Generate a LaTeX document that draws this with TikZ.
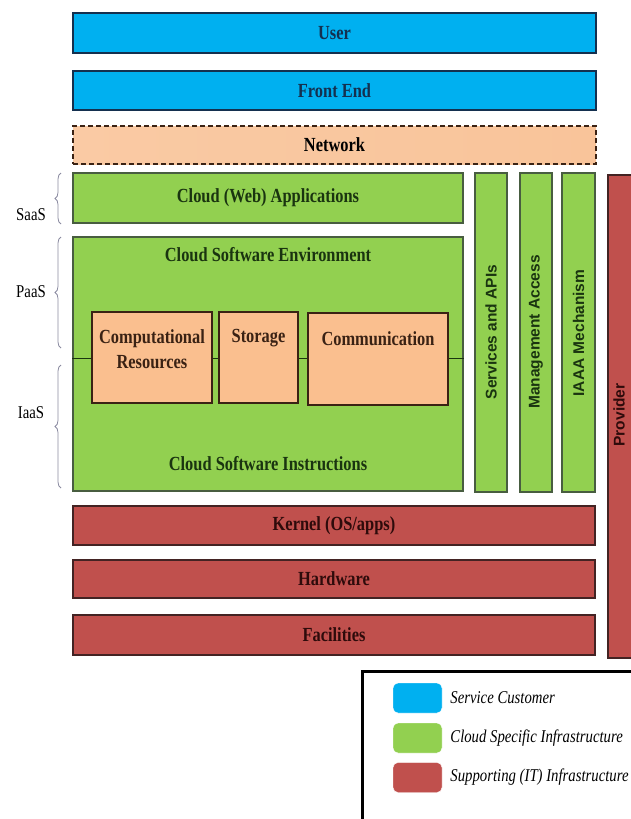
\documentclass[tikz,border=0pt]{standalone}
\usepackage{fontspec}
\setmainfont{Liberation Serif}
\newfontfamily\lblfont{Liberation Serif}[FakeStretch=0.82]
\newfontfamily\barfont{Liberation Sans}
\usetikzlibrary{positioning,decorations.pathreplacing}
\definecolor{custblue}{HTML}{00B0F0}
\definecolor{cloudgreen}{HTML}{92D050}
\definecolor{itred}{HTML}{C0504D}
\definecolor{resorange}{HTML}{FABF8F}
\definecolor{netpeach}{HTML}{F9C49A}
\definecolor{bluetext}{HTML}{14304F}
\definecolor{greentext}{HTML}{1A3410}
\definecolor{redtext}{HTML}{2E0B0B}
\definecolor{browntext}{HTML}{3A2214}
\definecolor{bracegray}{HTML}{8A8AA0}

\begin{document}
\begin{tikzpicture}[x=1pt,y=-1pt,
  layer/.style={draw, line width=1.1pt, inner sep=0pt, font=\lblfont\bfseries\fontsize{20}{22}\selectfont},
  bluelayer/.style={layer, fill=custblue, draw=bluetext, text=bluetext},
  greenlayer/.style={layer, fill=cloudgreen, draw=greentext!80, text=greentext},
  redlayer/.style={layer, fill=itred, draw=redtext!90, text=redtext},
  resbox/.style={layer, fill=resorange, draw=browntext, text=browntext},
  lbl/.style={inner sep=1pt, align=center, font=\lblfont\bfseries\fontsize{20}{25}\selectfont},
  barlbl/.style={inner sep=0pt, rotate=90, font=\barfont\bfseries\fontsize{15.5}{17}\selectfont},
  svclbl/.style={inner sep=0pt, font=\lblfont\fontsize{18}{20}\selectfont},
  brace/.style={draw=bracegray, line width=0.8pt, decorate, decoration={brace, amplitude=6pt}},
  swatch/.style={draw=white, rounded corners=5pt, minimum width=49pt, minimum height=30pt},
  legtext/.style={anchor=west, inner sep=0pt, font=\lblfont\itshape\fontsize{18}{20}\selectfont}]
\useasboundingbox (0,0) rectangle (630,819);

\node[bluelayer, minimum width=523pt, minimum height=40pt] (user) at (334.5,33) {User};
\node[bluelayer, minimum width=523pt, minimum height=39pt] (frontend) at (334.5,90.5) {Front End};
\node[layer, dash pattern=on 5pt off 3pt, draw=browntext, text=black, left color=netpeach!90, middle color=white!90!netpeach, right color=netpeach, minimum width=523pt, minimum height=38pt] (network) at (334.5,145) {Network};

\node[greenlayer, minimum width=390pt, minimum height=50pt] (webapps) at (268,198) {Cloud (Web) Applications};
\node[greenlayer, minimum width=390pt, minimum height=254pt] (cse) at (268,364) {};
\coordinate (split) at (0,358);
\draw[greentext, line width=1pt] (cse.west |- split) -- (cse.east |- split);
\node[lbl, text=greentext] (csetitle) at (268,255) {Cloud Software Environment};
\node[lbl, text=greentext] (cseinstr) at (268,464) {Cloud Software Instructions};

\node[resbox, minimum width=120pt, minimum height=91pt] (comp) at (152,357.5) {};
\node[resbox, minimum width=79pt, minimum height=91pt] (storage) at (258.5,357.5) {};
\node[resbox, minimum width=140pt, minimum height=92pt] (comm) at (378,359) {};
\node[lbl, text=browntext, below=17pt of comp.north, anchor=north] (complbl) {Computational\\Resources};
\node[lbl, text=browntext, below=17pt of storage.north, anchor=north] (storagelbl) {Storage};
\node[lbl, text=browntext, below=18pt of comm.north, anchor=north] (commlbl) {Communication};

\node[greenlayer, minimum width=32pt, minimum height=319pt] (services) at (491,332.5) {};
\node[greenlayer, minimum width=32pt, minimum height=319pt] (mgmt) at (536,332.5) {};
\node[greenlayer, minimum width=33pt, minimum height=319pt] (iaaa) at (578.5,332.5) {};
\node[barlbl, text=greentext] (serviceslbl) at (491,332) {Services and APIs};
\node[barlbl, text=greentext] (mgmtlbl) at (536,332) {Management Access};
\node[barlbl, text=greentext] (iaaalbl) at (578.5,333) {IAAA Mechanism};

\node[redlayer, minimum width=52pt, minimum height=483pt] (provider) at (634,416.5) {};
\node[barlbl, text=redtext] (providerlbl) at (619,415) {Provider};

\node[redlayer, minimum width=522pt, minimum height=39pt] (kernel) at (334,525.5) {Kernel (OS/apps)};
\node[redlayer, minimum width=522pt, minimum height=38pt] (hardware) at (334,579) {Hardware};
\node[redlayer, minimum width=522pt, minimum height=40pt] (facilities) at (334,635) {Facilities};

\coordinate (saastop) at (61,173);
\coordinate (saasbot) at (61,224);
\coordinate (paastop) at (61,237);
\coordinate (paasbot) at (61,348);
\coordinate (iaastop) at (61,365);
\coordinate (iaasbot) at (61,488);
\draw[brace] (saasbot) -- (saastop);
\draw[brace] (paasbot) -- (paastop);
\draw[brace] (iaasbot) -- (iaastop);
\node[svclbl] (saas) at (31,215) {SaaS};
\node[svclbl] (paas) at (31,292) {PaaS};
\node[svclbl] (iaas) at (31,413) {IaaS};

\node[draw, line width=3pt, minimum width=338pt, minimum height=228pt, inner sep=0pt] (legend) at (531,785) {};
\node[swatch, fill=custblue] (swblue) at (417.5,698) {};
\node[swatch, fill=cloudgreen] (swgreen) at (417.5,738) {};
\node[swatch, fill=itred] (swred) at (417.5,777.5) {};
\node[legtext, right=8pt of swblue] (legblue) {Service Customer};
\node[legtext, right=8pt of swgreen] (leggreen) {Cloud Specific Infrastructure};
\node[legtext, right=8pt of swred] (legred) {Supporting (IT) Infrastructure};
\end{tikzpicture}
\end{document}
